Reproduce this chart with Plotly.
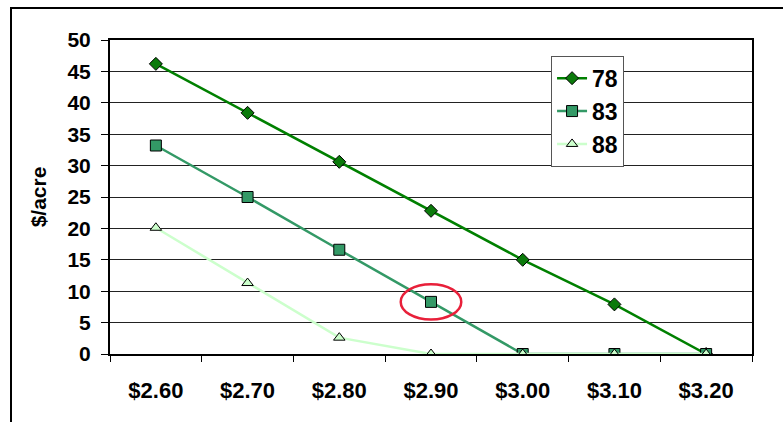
import plotly.graph_objects as go

# Price categories and $/acre values for each series
prices = ["$2.60", "$2.70", "$2.80", "$2.90", "$3.00", "$3.10", "$3.20"]
s78 = [46.2, 38.4, 30.6, 22.8, 15.0, 7.9, 0.0]
s83 = [33.2, 25.0, 16.6, 8.3, 0.0, 0.0, 0.0]
s88 = [20.1, 11.3, 2.6, 0.0, 0.0, 0.0, 0.0]
y_ticks = [0, 5, 10, 15, 20, 25, 30, 35, 40, 45, 50]

FONT = "Arial, Liberation Sans, sans-serif"

fig = go.Figure()
fig.add_trace(go.Scatter(
    x=prices, y=s78, name="78", mode="lines+markers",
    line=dict(color="#008000", width=2.5),
    marker=dict(symbol="diamond", size=10, color="#0B7A0B",
                line=dict(color="#000000", width=1)),
))
fig.add_trace(go.Scatter(
    x=prices, y=s83, name="83", mode="lines+markers",
    line=dict(color="#339966", width=2.5),
    marker=dict(symbol="square", size=11, color="#339966",
                line=dict(color="#000000", width=1)),
))
fig.add_trace(go.Scatter(
    x=prices, y=s88, name="88", mode="lines+markers",
    line=dict(color="#CCFFCC", width=2.5),
    marker=dict(symbol="triangle-up", size=10, color="#CCFFCC",
                line=dict(color="#000000", width=1)),
))

# Highlight around the $2.90 point of series 83
fig.add_shape(type="circle", xref="x", yref="y",
              x0=3 - 0.33, x1=3 + 0.33, y0=s83[3] - 2.8, y1=s83[3] + 2.8,
              line=dict(color="#E8203A", width=2.5), layer="above")

# Outer frame around the chart
fig.add_shape(type="rect", xref="paper", yref="paper",
              x0=-0.1542, x1=1.2, y0=-0.4, y1=1.1019,
              line=dict(color="#000000", width=2), layer="below")

fig.update_layout(
    width=783, height=422,
    margin=dict(l=110, r=31, t=40, b=68),
    paper_bgcolor="white", plot_bgcolor="white",
    font=dict(family=FONT, size=20, color="#000000"),
    showlegend=True,
    legend=dict(
        x=0.687, y=0.95, xanchor="left", yanchor="top",
        bgcolor="white", bordercolor="#555555", borderwidth=1,
        font=dict(family=FONT, size=23, color="#000000", weight="bold"),
        itemwidth=30,
    ),
    xaxis=dict(
        type="category", categoryorder="array", categoryarray=prices,
        range=[-0.5, 6.5],
        showline=True, linecolor="#000000", linewidth=2, mirror=True,
        ticks="outside", tickson="boundaries", ticklen=6, tickcolor="#000000",
        showgrid=False,
        tickfont=dict(family=FONT, size=22, weight="bold"),
        ticklabelstandoff=16,
    ),
    yaxis=dict(
        range=[0, 50], tickvals=y_ticks,
        showline=True, linecolor="#000000", linewidth=2, mirror=True,
        ticks="outside", ticklen=7, tickcolor="#000000",
        showgrid=True, gridcolor="#222222", gridwidth=1,
        zeroline=False,
        tickfont=dict(family=FONT, size=21, weight="bold"),
        ticklabelstandoff=6,
        title=dict(text="$/acre", font=dict(family=FONT, size=21, weight="bold"),
                   standoff=15),
    ),
)

fig.write_html("out.html")
